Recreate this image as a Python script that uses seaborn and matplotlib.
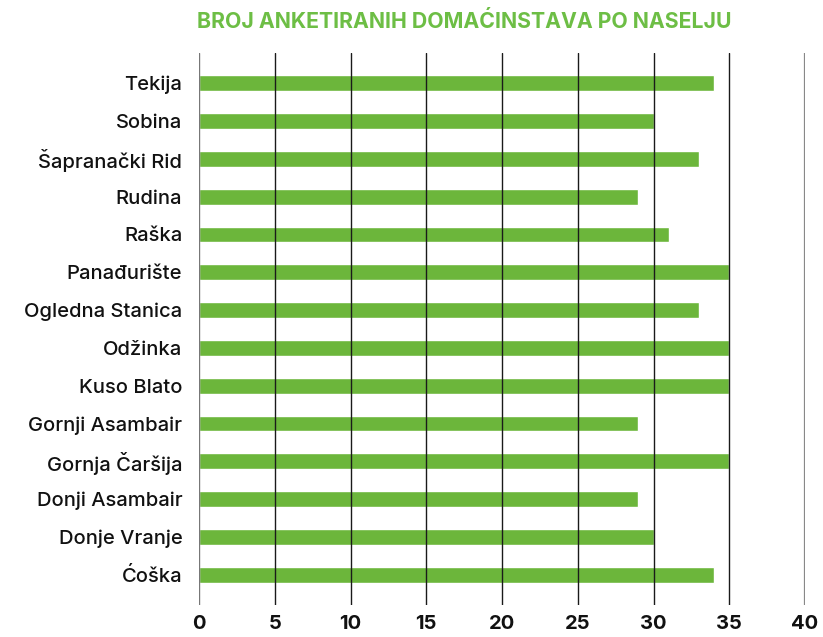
import matplotlib
matplotlib.use("Agg")
import matplotlib.pyplot as plt
import seaborn as sns
import pandas as pd

# values
naselja = [
    "Tekija", "Sobina", "Šapranački Rid", "Rudina", "Raška", "Panađurište",
    "Ogledna Stanica", "Odžinka", "Kuso Blato", "Gornji Asambair",
    "Gornja Čaršija", "Donji Asambair", "Donje Vranje", "Ćoška",
]
broj = [34, 30, 33, 29, 31, 35, 33, 35, 35, 29, 35, 29, 30, 34]
x_ticks = [0, 5, 10, 15, 20, 25, 30, 35, 40]

GREEN = "#6cb63b"
TITLE_GREEN = "#6dbe45"

df = pd.DataFrame({"naselje": naselja, "broj": broj})

sns.set_style("white")
plt.rcParams["font.family"] = ["Inter", "DejaVu Sans"]

fig = plt.figure(figsize=(8.23, 6.37), dpi=100)
ax = fig.add_axes([199 / 823, 1 - 605 / 637, (805 - 199) / 823, (605 - 53) / 637])

sns.barplot(data=df, y="naselje", x="broj", orient="h", color=GREEN,
            saturation=1, width=0.42, ax=ax)

ax.set_xlim(0, 40)
ax.set_ylim(13.8, -0.8)
ax.set_xticks(x_ticks)
ax.set_xticklabels([str(t) for t in x_ticks], fontsize=14.5, fontweight="bold",
                   color="#111111")
ax.tick_params(axis="x", length=0, pad=7)
ax.tick_params(axis="y", length=0, pad=12, labelsize=14.5, labelcolor="#111111")
for lbl in ax.get_yticklabels():
    lbl.set_fontweight("medium")

ax.set_axisbelow(False)
ax.grid(axis="x", color="#1a1a1a", linewidth=1.0)
ax.grid(axis="y", visible=False)
gl = ax.xaxis.get_gridlines()
gl[0].set_color("#777777")
gl[-1].set_color("#888888")
gl[-1].set_linewidth(1.6)

for s in ax.spines.values():
    s.set_visible(False)
ax.set_xlabel("")
ax.set_ylabel("")

fig.text(464 / 823, 1 - 22 / 637, "BROJ ANKETIRANIH DOMAĆINSTAVA PO NASELJU",
         ha="center", va="center", fontsize=15.3, fontweight="bold",
         color=TITLE_GREEN)

fig.savefig("out.png", dpi=100)
